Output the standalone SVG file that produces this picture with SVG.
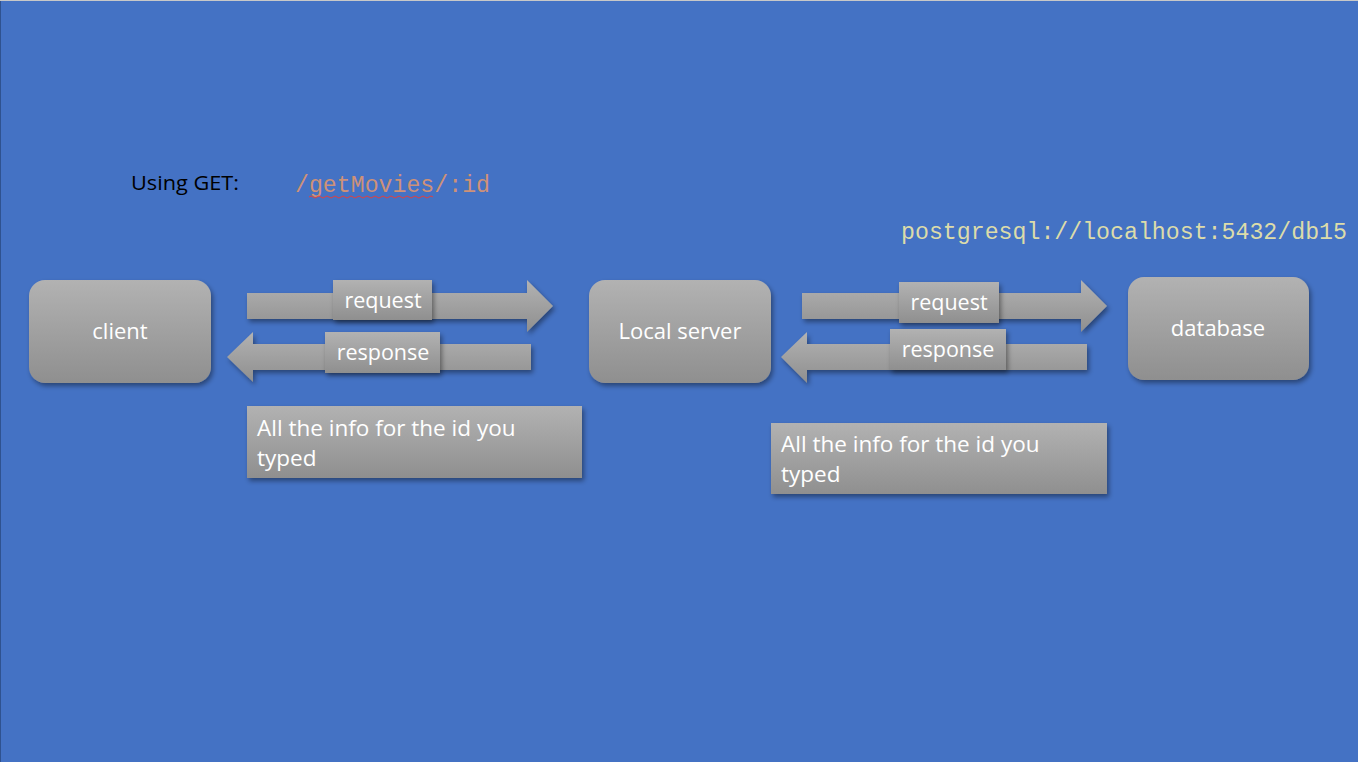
<svg xmlns="http://www.w3.org/2000/svg" width="1358" height="762" viewBox="0 0 1358 762">
<defs>
<linearGradient id="g" x1="0" y1="0" x2="0" y2="1">
<stop offset="0" stop-color="#b2b2b2"/>
<stop offset="1" stop-color="#8f8f8f"/>
</linearGradient>
<filter id="sh" x="-20%" y="-20%" width="140%" height="150%">
<feDropShadow dx="2" dy="3" stdDeviation="2.5" flood-color="#000" flood-opacity="0.4"/>
</filter>
<style>
.node{fill:url(#g);filter:url(#sh)}
.arrow{fill:url(#g);filter:url(#sh)}
.lbl{fill:url(#g);filter:url(#sh)}
.t{font-family:"Open Sans","Liberation Sans",sans-serif;fill:#fff}
.nt{font-size:22px;text-anchor:middle}
.at{font-size:21.5px;text-anchor:middle}
.it{font-size:22.5px}
.mono{font-family:"Liberation Mono","DejaVu Sans Mono",monospace;font-size:23px}
</style>
</defs>
<rect x="0" y="0" width="1358" height="762" fill="#4472c4"/>
<rect x="0" y="0" width="1358" height="1" fill="#c8c8c8"/>
<rect x="0" y="1" width="1" height="761" fill="#2f528f"/>

<g id="header">
<text x="131" y="190" font-family="'Open Sans','Liberation Sans',sans-serif" font-size="20.5" fill="#000" textLength="108" lengthAdjust="spacingAndGlyphs">Using GET:</text>
<text x="295" y="192" class="mono" fill="#ce9178" textLength="195" lengthAdjust="spacingAndGlyphs">/getMovies/:id</text>
<path d="M309 197 q2 -2 4 0 t4 0 t4 0 t4 0 t4 0 t4 0 t4 0 t4 0 t4 0 t4 0 t4 0 t4 0 t4 0 t4 0 t4 0 t4 0 t4 0 t4 0 t4 0 t4 0 t4 0 t4 0 t4 0 t4 0 t4 0 t4 0 t4 0 t4 0 t4 0 t4 0 t4 0" fill="none" stroke="#e04040" stroke-width="1"/>
<text x="901" y="239" class="mono" fill="#dcdcaa" textLength="446" lengthAdjust="spacingAndGlyphs">postgresql://localhost:5432/db15</text>
</g>

<g id="client">
<rect class="node" x="29" y="280" width="182" height="103" rx="16"/>
<text class="t nt" x="120" y="339">client</text>
</g>
<g id="local-server">
<rect class="node" x="589" y="280" width="182" height="103" rx="16"/>
<text class="t nt" x="680" y="339">Local server</text>
</g>
<g id="database">
<rect class="node" x="1128" y="277" width="181" height="103" rx="16"/>
<text class="t nt" x="1218" y="336">database</text>
</g>

<g id="connectors">
<g id="req1">
<polygon class="arrow" points="247,293 527,293 527,280 553,306 527,332 527,319 247,319"/>
<rect class="lbl" x="333" y="280" width="99" height="40"/>
<text class="t at" x="383" y="308">request</text>
</g>
<g id="resp1">
<polygon class="arrow" points="531,344 253,344 253,332 227,357 253,382 253,370 531,370"/>
<rect class="lbl" x="325" y="332" width="115" height="41"/>
<text class="t at" x="383" y="360">response</text>
</g>
<g id="req2">
<polygon class="arrow" points="802,293 1081,293 1081,280 1107,306 1081,332 1081,319 802,319"/>
<rect class="lbl" x="899" y="282" width="100" height="41"/>
<text class="t at" x="949" y="310">request</text>
</g>
<g id="resp2">
<polygon class="arrow" points="1087,344 807,344 807,332 781,357 807,383 807,370 1087,370"/>
<rect class="lbl" x="890" y="329" width="116" height="41"/>
<text class="t at" x="948" y="357">response</text>
</g>
</g>

<g id="info1">
<rect class="lbl" x="247" y="406" width="335" height="72"/>
<text class="t it" x="257" y="436">All the info for the id you</text>
<text class="t it" x="257" y="466">typed</text>
</g>
<g id="info2">
<rect class="lbl" x="771" y="423" width="336" height="71"/>
<text class="t it" x="781" y="452">All the info for the id you</text>
<text class="t it" x="781" y="482">typed</text>
</g>
</svg>
